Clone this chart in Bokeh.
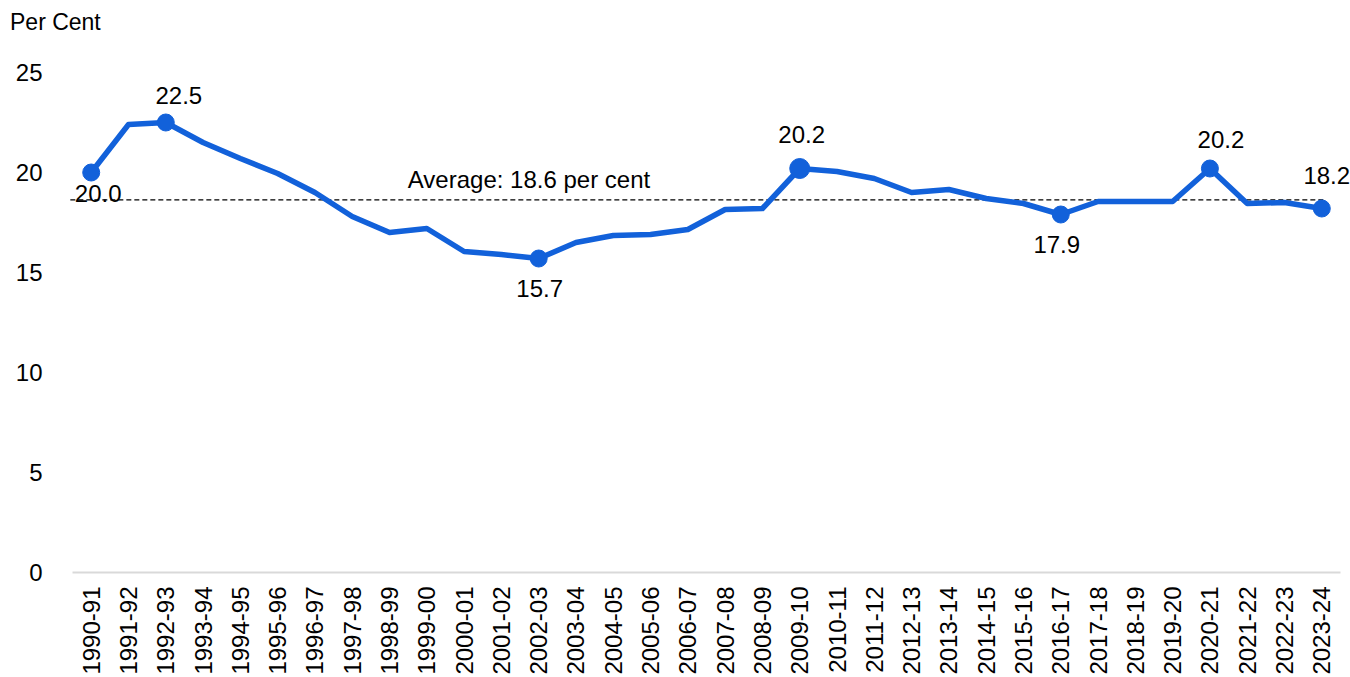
import math

from bokeh.core.properties import value
from bokeh.embed import file_html
from bokeh.layouts import column
from bokeh.models import ColumnDataSource, Div, FactorRange, LabelSet, Range1d
from bokeh.plotting import figure
from bokeh.resources import INLINE

# Financial years on the category axis
years = [
    "1990-91", "1991-92", "1992-93", "1993-94", "1994-95", "1995-96",
    "1996-97", "1997-98", "1998-99", "1999-00", "2000-01", "2001-02",
    "2002-03", "2003-04", "2004-05", "2005-06", "2006-07", "2007-08",
    "2008-09", "2009-10", "2010-11", "2011-12", "2012-13", "2013-14",
    "2014-15", "2015-16", "2016-17", "2017-18", "2018-19", "2019-20",
    "2020-21", "2021-22", "2022-23", "2023-24",
]

# Share of the year, per cent
share = [
    20.0, 22.4, 22.5, 21.5, 20.7, 19.95,
    19.0, 17.8, 17.0, 17.2, 16.05, 15.9,
    15.7, 16.5, 16.85, 16.9, 17.15, 18.15,
    18.2, 20.2, 20.05, 19.7, 19.0, 19.15,
    18.7, 18.45, 17.9, 18.55, 18.55, 18.55,
    20.2, 18.45, 18.5, 18.2,
]

# Years whose value is called out with a dot and a label
called_out = ["1990-91", "1992-93", "2002-03", "2009-10", "2016-17", "2020-21", "2023-24"]

y_ticks = [0, 5, 10, 15, 20, 25]
unit_text = "Per Cent"

# Styling for the called-out points
dot_size = [17, 17, 17, 20, 17, 17, 17]
label_dx = [7, 13, 1, 2, -4, 11, 5]
label_dy = [-21, 27, -30, 34, -30, 29, 33]

BLUE = "#1261DA"
FONT = "Liberation Sans"
FSIZE = "24px"
HEAD_H = 44

average = sum(share) / len(share)

# Unit heading above the value axis
head = Div(
    text=unit_text, width=1350, height=HEAD_H, margin=0,
    styles={
        "font-family": FONT, "font-size": "23px", "color": "black",
        "line-height": "28px", "padding-left": "10px", "padding-top": "8px",
        "box-sizing": "border-box", "background": "white",
    },
)

p = figure(
    width=1350, height=677 - HEAD_H,
    x_range=FactorRange(factors=years, range_padding=0.27,
                        range_padding_units="absolute"),
    y_range=Range1d(0, 25),
    output_backend="svg", toolbar_location=None,
    min_border_left=62, min_border_right=0,
    min_border_top=72 - HEAD_H, min_border_bottom=105,
    margin=0,
)
p.outline_line_color = None
p.grid.grid_line_color = None
p.background_fill_color = "white"
p.border_fill_color = "white"

# Average line
avg_src = ColumnDataSource(dict(
    x0=[(years[0], -0.56)], x1=[(years[-1], 0.08)],
    y0=[average], y1=[average],
))
p.segment(x0="x0", y0="y0", x1="x1", y1="y1", source=avg_src,
          line_color="black", line_width=1.3, line_dash="5 3")

# Main series
src = ColumnDataSource(dict(x=years, y=share))
p.line(x="x", y="y", source=src, line_color=BLUE, line_width=5.5,
       line_join="round", line_cap="round")

pts = [years.index(c) for c in called_out]
dot_src = ColumnDataSource(dict(
    x=called_out,
    y=[share[i] for i in pts],
    size=dot_size,
    text=[f"{share[i]:.1f}" for i in pts],
    dx=label_dx,
    dy=label_dy,
))
p.scatter(x="x", y="y", size="size", source=dot_src,
          fill_color=BLUE, line_color=BLUE)

p.add_layout(LabelSet(
    x="x", y="y", text="text", x_offset="dx", y_offset="dy", source=dot_src,
    text_font=value(FONT), text_font_size=FSIZE, text_color="black",
    text_align="center", text_baseline="middle",
))

# Average caption
note_src = ColumnDataSource(dict(
    x=[("1999-00", -0.51)],
    y=[average],
    text=[f"Average: {average:.1f} per cent"],
))
p.add_layout(LabelSet(
    x="x", y="y", text="text", y_offset=20, source=note_src,
    text_font=value(FONT), text_font_size=FSIZE, text_color="black",
    text_align="left", text_baseline="middle",
))

# Axes
p.yaxis.ticker = y_ticks
p.yaxis.axis_line_color = None
p.yaxis.major_tick_line_color = None
p.yaxis.minor_tick_line_color = None
p.yaxis.major_label_standoff = 14
p.yaxis.major_label_text_font = FONT
p.yaxis.major_label_text_font_size = FSIZE
p.yaxis.major_label_text_color = "black"

p.xaxis.bounds = (0, len(years))
p.xaxis.axis_line_color = "#d9d9d9"
p.xaxis.axis_line_width = 2
p.xaxis.major_tick_line_color = None
p.xaxis.minor_tick_line_color = None
p.xaxis.major_label_orientation = math.pi / 2
p.xaxis.major_label_standoff = 8
p.xaxis.major_label_text_font = FONT
p.xaxis.major_label_text_font_size = FSIZE
p.xaxis.major_label_text_color = "black"

page = column(head, p, spacing=0, margin=0)

open("out.html", "w").write(file_html(page, INLINE))
